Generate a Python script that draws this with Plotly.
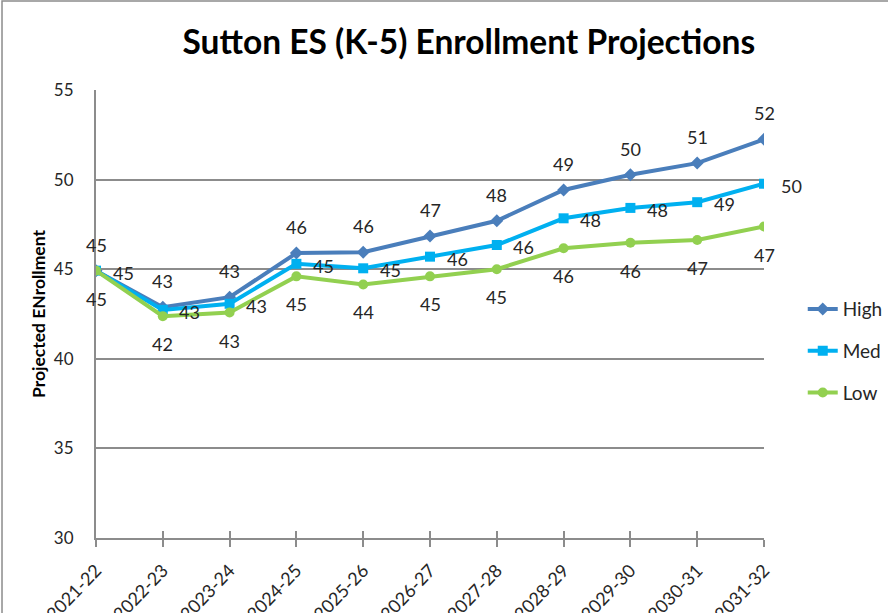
import plotly.graph_objects as go

years = ["2021-22", "2022-23", "2023-24", "2024-25", "2025-26", "2026-27",
         "2027-28", "2028-29", "2029-30", "2030-31", "2031-32"]
high = [44.92, 42.88, 43.44, 45.9, 45.95, 46.85, 47.7, 49.42, 50.27, 50.92, 52.25]
med = [44.92, 42.73, 43.07, 45.3, 45.05, 45.7, 46.35, 47.84, 48.42, 48.74, 49.77]
low = [44.92, 42.38, 42.58, 44.6, 44.15, 44.6, 45.0, 46.17, 46.48, 46.63, 47.38]
y_ticks = [30, 35, 40, 45, 50, 55]

FONT = "Lato, Carlito, Open Sans, sans-serif"
TXT = "#262626"
GRID = "#8c8c8c"

series = [
    ("High", high, "#4A7EBB", "diamond", 10, 0, 26),
    ("Med", med, "#00B0F0", "square", 10, 27, -2),
    ("Low", low, "#92D050", "circle", 10, 0, -28),
]

fig = go.Figure()
annotations = []
for name, vals, color, sym, msize, xs, ys in series:
    fig.add_trace(go.Scatter(
        x=years, y=vals, name=name, mode="lines+markers",
        line=dict(color=color, width=4),
        marker=dict(symbol=sym, size=msize, color=color),
        legendgroup=name,
    ))
    for xv, yv in zip(years, vals):
        annotations.append(dict(
            x=xv, y=yv, xref="x", yref="y", text=f"{round(yv):d}",
            showarrow=False, xshift=xs, yshift=ys,
            font=dict(family=FONT, size=18, color=TXT),
        ))

fig.update_layout(
    width=888, height=613,
    margin=dict(l=96, r=124, t=90, b=75, autoexpand=False),
    paper_bgcolor="white", plot_bgcolor="white",
    title=dict(text="<b>Sutton ES (K-5) Enrollment Projections</b>",
               x=0.528, xanchor="center", y=0.931, yanchor="middle",
               font=dict(family=FONT, size=33.5, color="black")),
    font=dict(family=FONT, size=16, color=TXT),
    showlegend=True,
    legend=dict(x=1.058, y=0.417, xanchor="left", yanchor="middle",
                font=dict(family=FONT, size=19, color=TXT),
                tracegroupgap=14, traceorder="grouped",
                bgcolor="rgba(0,0,0,0)", itemwidth=30),
    annotations=annotations,
    xaxis=dict(type="category", range=[0, 10], showgrid=False,
               showline=True, linecolor=GRID, linewidth=2, automargin=False,
               ticks="outside", ticklen=7, tickcolor=GRID, tickwidth=1.5,
               tickangle=-46, ticklabelstandoff=6,
               tickfont=dict(family=FONT, size=18, color=TXT),
               zeroline=False),
    xaxis2=dict(type="linear", range=[0, 10], overlaying="x", anchor="y",
                side="bottom", tickmode="linear", tick0=0, dtick=1,
                ticks="inside", ticklen=7, tickcolor=GRID, tickwidth=1.5,
                showticklabels=False, showgrid=False, showline=False,
                zeroline=False, automargin=False),
    yaxis=dict(range=[30, 55], tickvals=y_ticks, showgrid=True,
               gridcolor=GRID, gridwidth=1.5, showline=True, automargin=False,
               linecolor=GRID, linewidth=2, ticks="", zeroline=False,
               ticklabelstandoff=17,
               tickfont=dict(family=FONT, size=17, color=TXT),
               title=dict(text="<b>Projected ENrollment</b>", standoff=4,
                          font=dict(family=FONT, size=17.5, color="black"))),
    shapes=[dict(type="rect", xref="paper", yref="paper",
                 x0=-0.1407, x1=1.5, y0=-0.5, y1=1.1987,
                 line=dict(color="#8c8c8c", width=1.5), layer="below")],
)
fig.add_trace(go.Scatter(x=[0, 10], y=[30, 30], xaxis="x2", yaxis="y",
                         mode="markers", marker=dict(opacity=0),
                         showlegend=False, hoverinfo="skip"))

fig.write_html("out.html", config={"displayModeBar": False},
               post_script="document.body.style.margin='0';")
